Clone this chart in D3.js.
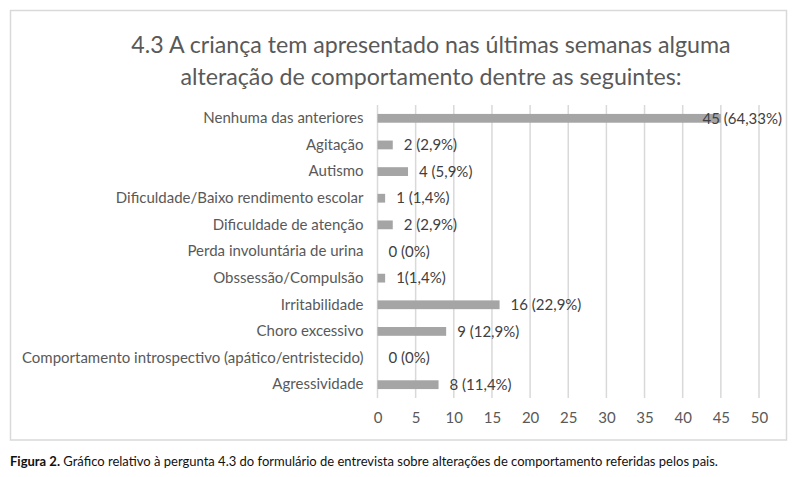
<!DOCTYPE html>
<html>
<head>
<meta charset="utf-8">
<script src="https://cdn.jsdelivr.net/npm/d3@7"></script>
<style>
  body { margin: 0; background: #fff; }
  text { font-family: Lato, "Open Sans", sans-serif; }
</style>
</head>
<body>
<div id="wrapper"></div>
<script>
// data
const categories = [
  "Nenhuma das anteriores",
  "Agitação",
  "Autismo",
  "Dificuldade/Baixo rendimento escolar",
  "Dificuldade de atenção",
  "Perda involuntária de urina",
  "Obssessão/Compulsão",
  "Irritabilidade",
  "Choro excessivo",
  "Comportamento introspectivo (apático/entristecido)",
  "Agressividade"
]
const counts = [45, 2, 4, 1, 2, 0, 1, 16, 9, 0, 8]
const valueLabels = [
  "45 (64,33%)", "2 (2,9%)", "4 (5,9%)", "1 (1,4%)", "2 (2,9%)", "0 (0%)",
  "1(1,4%)", "16 (22,9%)", "9 (12,9%)", "0 (0%)", "8 (11,4%)"
]
const xTicks = [0, 5, 10, 15, 20, 25, 30, 35, 40, 45, 50]
const titleLines = [
  "4.3 A criança tem apresentado nas últimas semanas alguma",
  "alteração de comportamento dentre as seguintes:"
]
const captionBold = "Figura 2."
const captionText = " Gráfico relativo à pergunta 4.3 do formulário de entrevista sobre alterações de comportamento referidas pelos pais."

const dimensions = {
  width: 800, height: 477,
  margins: {top: 105, bottom: 79, left: 377.5, right: 41}
}
dimensions.boundsWidth = dimensions.width - dimensions.margins.left - dimensions.margins.right
dimensions.boundsHeight = dimensions.height - dimensions.margins.top - dimensions.margins.bottom

const svg = d3.select("#wrapper").append("svg")
  .attr("width", dimensions.width)
  .attr("height", dimensions.height)

// chart frame
svg.append("rect")
  .attr("x", 10.5).attr("y", 10.5)
  .attr("width", 776).attr("height", 429.5)
  .attr("fill", "none").attr("stroke", "#d9d9d9").attr("stroke-width", 1.5)

// title
svg.append("g").selectAll("text").data(titleLines).enter().append("text")
  .attr("x", 431).attr("y", (d, i) => 53 + i * 32)
  .attr("text-anchor", "middle")
  .attr("font-size", 23.2)
  .attr("fill", "#595959")
  .text(d => d)

const bounds = svg.append("g")
  .attr("transform", `translate(${dimensions.margins.left},${dimensions.margins.top})`)

const xScale = d3.scaleLinear().domain([0, 50]).range([0, dimensions.boundsWidth])
const yScale = d3.scaleBand().domain(categories).range([0, dimensions.boundsHeight]).paddingInner(0.67).paddingOuter(0.335)

// gridlines
bounds.append("g").selectAll("line").data(xTicks).enter().append("line")
  .attr("x1", d => xScale(d)).attr("x2", d => xScale(d))
  .attr("y1", 0).attr("y2", dimensions.boundsHeight)
  .attr("stroke", "#d9d9d9").attr("stroke-width", 1.5)

// x axis tick labels
const xAxis = bounds.append("g")
  .attr("transform", `translate(0,${dimensions.boundsHeight})`)
  .call(d3.axisBottom(xScale).tickValues(xTicks).tickSize(0).tickPadding(14))
xAxis.select(".domain").remove()
xAxis.selectAll("text").attr("font-size", 15).attr("fill", "#595959").attr("font-family", "Lato, sans-serif")

// y axis category labels
const yAxis = bounds.append("g")
  .attr("transform", "translate(-14,0)")
  .call(d3.axisLeft(yScale).tickSize(0).tickPadding(0))
yAxis.select(".domain").remove()
yAxis.selectAll("text").attr("font-size", 15).attr("fill", "#595959").attr("font-family", "Lato, sans-serif")

// bars
const rows = categories.map((c, i) => ({cat: c, n: counts[i], label: valueLabels[i]}))
bounds.append("g").selectAll("rect").data(rows).enter().append("rect")
  .attr("x", 0)
  .attr("y", d => yScale(d.cat))
  .attr("width", d => xScale(d.n))
  .attr("height", yScale.bandwidth())
  .attr("fill", "#a5a5a5")

// value labels
const maxRight = dimensions.boundsWidth + 23
bounds.append("g").selectAll("text").data(rows).enter().append("text")
  .attr("y", d => yScale(d.cat) + yScale.bandwidth() / 2)
  .attr("dy", "0.35em")
  .attr("font-size", 15)
  .attr("fill", "#404040")
  .text(d => d.label)
  .attr("x", function (d) {
    const x = xScale(d.n) + 11
    const w = this.getComputedTextLength()
    return x + w > maxRight ? maxRight - w : x
  })

// caption
const cap = svg.append("text")
  .attr("x", 10).attr("y", 466)
  .attr("font-size", 13)
  .attr("fill", "#111")
cap.append("tspan").attr("font-weight", "bold").text(captionBold)
cap.append("tspan").text(captionText)
</script>
</body>
</html>
